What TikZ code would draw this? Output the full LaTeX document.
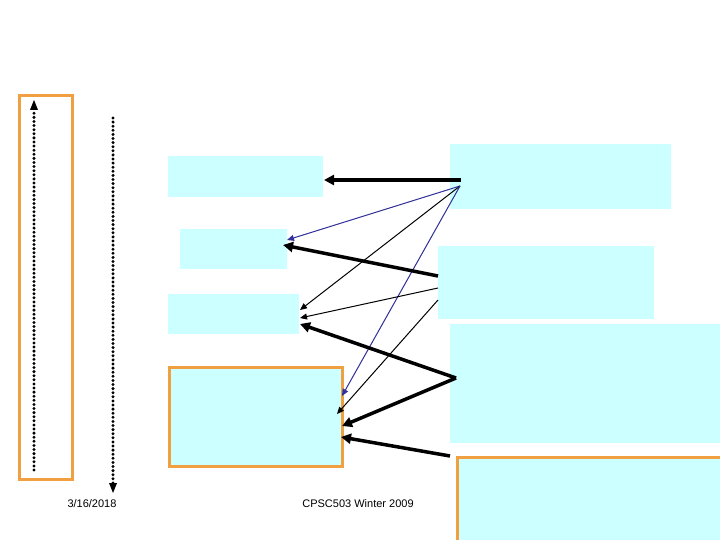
\documentclass[tikz,border=0pt]{standalone}
\usepackage{fontspec}
\setmainfont{Liberation Sans}
\usetikzlibrary{arrows.meta}
\definecolor{cy}{RGB}{204,255,255}
\definecolor{orng}{RGB}{240,160,64}
\definecolor{bl}{RGB}{51,51,153}
\begin{document}
\begin{tikzpicture}[x=1pt,y=-1pt,
 box/.style={fill=cy,draw=none},
 obox/.style={draw=orng,line width=3pt},
 thick arr/.style={line width=3.5pt,-{Triangle[length=10pt,width=10pt]}},
 thin arr/.style={line width=1pt,-{Triangle[length=7pt,width=6pt]}},
 blue arr/.style={thin arr,draw=bl,fill=bl},
 dots/.style={line width=3.3pt,dash pattern=on 0pt off 4.1pt,line cap=round},
 lbl/.style={font=\fontsize{11}{13}\selectfont,inner sep=0pt}]
\useasboundingbox[fill=white] (0,0) rectangle (720,540);
\fill[box] (168,156) rectangle (323,197) coordinate (b1);
\fill[box] (180,229) rectangle (287,269) coordinate (b2);
\fill[box] (168,294) rectangle (299,334) coordinate (b3);
\fill[box] (450,144) rectangle (671,209) coordinate (r1);
\fill[box] (438,246) rectangle (654,319) coordinate (r2);
\fill[box] (450,324) rectangle (720,443) coordinate (r3);
\draw[obox,fill=cy] (169,367) rectangle (342,466) coordinate (b4);
\draw[obox,fill=cy] (457,457) rectangle (721,541) coordinate (r4);
\draw[obox] (19,96) rectangle (72,479) coordinate (lb);
% dotted arrows
\coordinate (d1s) at (34,470); \coordinate (d1e) at (34,100);
\coordinate (d2s) at (113,118); \coordinate (d2e) at (113,493);
\draw[dots] (d1s) -- (34,110);
\fill (d1e) -- (30,110) -- (38,110) -- cycle;
\draw[dots] (d2s) -- (113,483);
\fill (d2e) -- (109,483) -- (117,483) -- cycle;
% connectors
\coordinate (s1) at (461,180); \coordinate (t1) at (324,180);
\coordinate (s2) at (460,186);
\coordinate (t2) at (287,240); \coordinate (t3) at (300,310); \coordinate (t4) at (342,396);
\coordinate (s5) at (438,276); \coordinate (t5) at (283,245);
\coordinate (s6) at (438,288); \coordinate (t6) at (300,318);
\coordinate (s7) at (438,300); \coordinate (t7) at (337,414);
\coordinate (s8) at (456,378); \coordinate (t8) at (300,324); \coordinate (t9) at (342,426);
\coordinate (s10) at (450,456); \coordinate (t10) at (341,437);
\draw[thick arr] (s1) -- (t1);
\draw[blue arr] (s2) -- (t2);
\draw[thin arr] (s2) -- (t3);
\draw[blue arr] (s2) -- (t4);
\draw[thick arr] (s5) -- (t5);
\draw[thin arr] (s6) -- (t6);
\draw[thin arr] (s7) -- (t7);
\draw[thick arr] (s8) -- (t8);
\draw[thick arr] (s8) -- (t9);
\draw[thick arr] (s10) -- (t10);
\node[lbl] (date) at (92,504) {3/16/2018};
\node[lbl] (course) at (358,504) {CPSC503 Winter 2009};
\end{tikzpicture}
\end{document}
